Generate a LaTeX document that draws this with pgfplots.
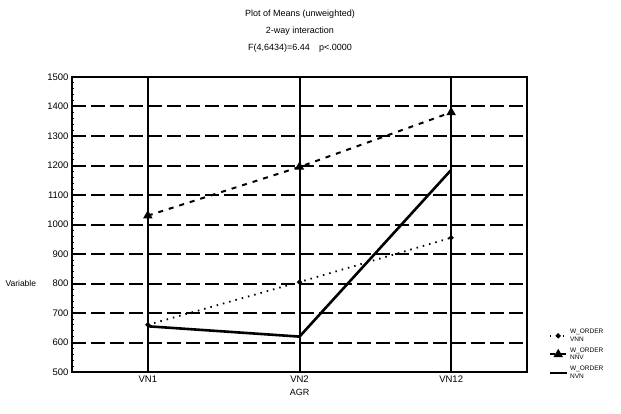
\documentclass[border=0pt]{standalone}
\usepackage{fontspec}
\setmainfont{Liberation Sans}
\usepackage{pgfplots}
\pgfplotsset{compat=1.18}
\begin{document}
\begin{tikzpicture}[x=1pt,y=1pt]
\useasboundingbox (0,0) rectangle (621,413);
\node[font=\fontsize{9}{17}\selectfont,align=center] at (300,382) {Plot of Means (unweighted)\\2-way interaction\\F(4,6434)=6.44\quad p<.0000};
\begin{axis}[
  at={(72pt,41pt)}, anchor=south west,
  scale only axis, width=455pt, height=295pt,
  xmin=-0.5, xmax=2.5, ymin=500, ymax=1500,
  xtick={0,1,2}, xticklabels={VN1,VN2,VN12},
  ytick={500,600,...,1500},
  minor y tick num=4,
  /pgf/number format/assume math mode=true,
  /pgf/number format/1000 sep={},
  tick label style={font=\fontsize{9.5}{11}\selectfont},
  ymajorgrids, xmajorgrids,
  y grid style={black, line width=2pt, dash pattern=on 14pt off 5pt},
  x grid style={black, line width=2pt},
  axis line style={line width=2pt},
  tick style={black, line width=0.8pt},
  major tick length=3pt, minor tick length=2pt,
  ytick pos=left, xtick pos=bottom,
  xtick style={draw=none},
  xlabel={AGR}, xlabel style={font=\fontsize{9}{11}\selectfont, yshift=0pt},
  legend style={at={(1.04,0.16)}, anchor=north west, draw=none, fill=none,
    font=\fontsize{6.5}{7.5}\selectfont, nodes={align=left}, row sep=1pt},
  legend cell align=left,
  clip=false,
]
\addplot[black, line width=1.8pt, dash pattern=on 1.5pt off 5pt, mark=*, mark size=1.5pt, mark options={solid}]
  coordinates {(0,660) (1,805) (2,955)};
\addlegendentry{W\_ORDER\\VNN}
\addplot[black, line width=2pt, dash pattern=on 5pt off 6pt, mark=triangle*, mark size=3.5pt, mark options={solid}]
  coordinates {(0,1030) (1,1195) (2,1380)};
\addlegendentry{W\_ORDER\\NNV}
\addplot[black, line width=2.6pt, mark=none]
  coordinates {(0,655) (1,620) (2,1185)};
\addlegendentry{W\_ORDER\\NVN}
\end{axis}
\node[font=\fontsize{8.5}{10}\selectfont, anchor=west] at (2,130) {Variable};
\end{tikzpicture}
\end{document}
